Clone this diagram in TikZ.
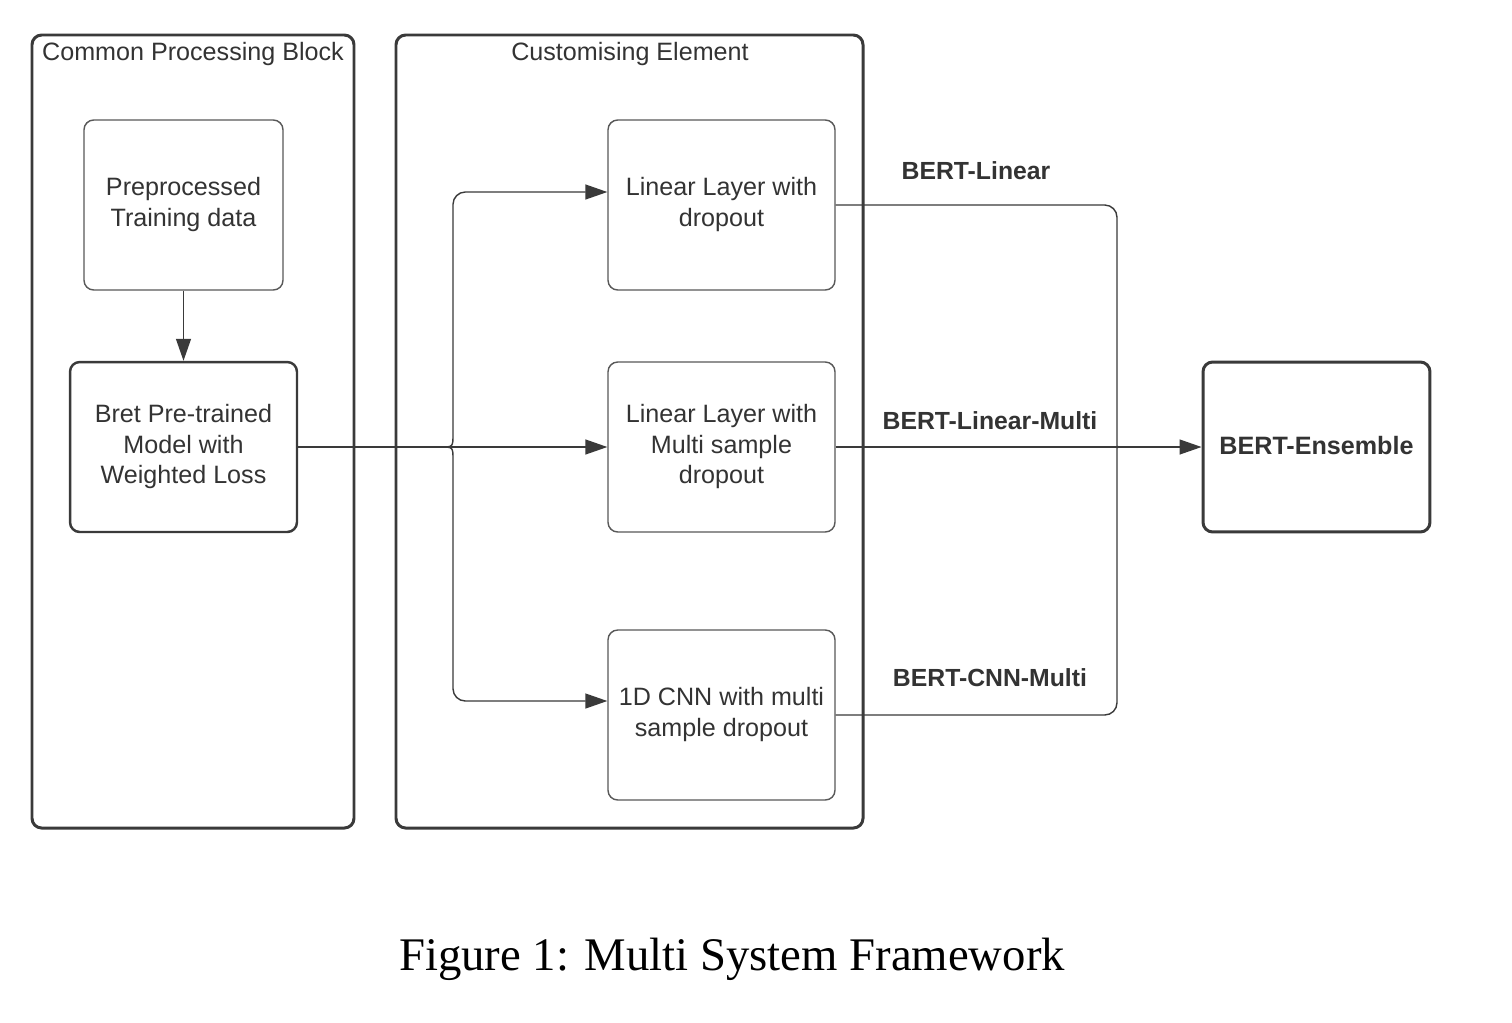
\documentclass[tikz,border=0pt]{standalone}
\usepackage{fontspec}
\setmainfont{Liberation Sans}
\newfontfamily\capfont{Liberation Serif}
\usetikzlibrary{arrows.meta}
\definecolor{ln}{HTML}{3A3A3A}
\definecolor{tx}{HTML}{333333}
\tikzset{
  outerbox/.style={draw=ln, line width=1.7pt, rounded corners=5.5pt},
  inbox/.style={draw=ln!85, line width=0.8pt, rounded corners=5.5pt, align=center, text=tx,
     minimum width=3.98cm, minimum height=3.4cm, inner sep=0pt,
     font=\fontsize{14.3}{17.3}\selectfont},
  thickbox/.style={inbox, line width=1.4pt, draw=ln, minimum width=4.54cm},
  ensbox/.style={inbox, line width=1.7pt, draw=ln, minimum width=4.54cm, font=\fontsize{14.3}{17.3}\selectfont\bfseries},
  midbox/.style={inbox, minimum width=4.54cm},
  title/.style={text=tx, font=\fontsize{14.3}{17.3}\selectfont, inner sep=0pt},
  lbl/.style={text=tx, font=\fontsize{14.1}{17}\selectfont\bfseries, inner sep=0pt},
  conn/.style={draw=ln, line width=0.8pt},
  arr/.style={conn, -{Triangle[length=12.5pt,width=8.5pt]}},
}
\begin{document}
\begin{tikzpicture}[x=0.02cm, y=-0.02cm]
\useasboundingbox[fill=white] (0,0) rectangle (1512,1022);

% outer blocks
\draw[outerbox] (32,35) rectangle (354,828);
\draw[outerbox] (396,35) rectangle (863,828);
\node[title] (t1) at (193,54) {Common Processing Block};
\node[title] (t2) at (630,54) {Customising Element};

% inner boxes
\node[inbox] (pre) at (183.5,205) {\raisebox{1.6pt}{\begin{tabular}{@{}c@{}}Preprocessed\\Training data\end{tabular}}};
\node[thickbox] (bret) at (183.5,447) {\raisebox{1.6pt}{\begin{tabular}{@{}c@{}}Bret Pre-trained\\Model with\\Weighted Loss\end{tabular}}};
\node[midbox] (lin) at (721.5,205) {\raisebox{1.6pt}{\begin{tabular}{@{}c@{}}Linear Layer with\\dropout\end{tabular}}};
\node[midbox] (multi) at (721.5,447) {\raisebox{1.6pt}{\begin{tabular}{@{}c@{}}Linear Layer with\\Multi sample\\dropout\end{tabular}}};
\node[midbox] (cnn) at (721.5,715) {\raisebox{1.6pt}{\begin{tabular}{@{}c@{}}1D CNN with multi\\sample dropout\end{tabular}}};
\node[ensbox] (ens) at (1316.5,447) {\raisebox{2pt}{BERT-Ensemble}};

% labels
\node[lbl] (l1) at (976,171) {BERT-Linear};
\node[lbl] (l2) at (990,421) {BERT-Linear-Multi};
\node[lbl] (l3) at (990,678) {BERT-CNN-Multi};

% caption
\node[inner sep=0pt, font=\capfont\fontsize{26.6}{30}\selectfont, text=black] (cap) at (732,959) {Figure 1: Multi System Framework};

% connectors
\draw[arr] (pre) -- (bret);

\coordinate (split) at (441,447);
\coordinate (su) at (453,434);
\coordinate (sd) at (453,460);
\coordinate (lin in) at ([yshift=0.26cm]lin.west);
\coordinate (cnn in) at ([yshift=0.28cm]cnn.west);
\draw[arr] (bret.east) -- (multi.west);
\draw[arr] (split) .. controls (453,447) .. (su) [rounded corners=7pt] |- (lin in);
\draw[arr] (split) .. controls (453,447) .. (sd) [rounded corners=7pt] |- (cnn in);

\coordinate (merge) at (1130,447);
\coordinate (mu) at (1117,434);
\coordinate (md) at (1117,460);
\draw[arr] (multi.east) -- (ens.west);
\draw[conn] (lin.east) [rounded corners=7pt] -| (mu) [sharp corners] .. controls (1117,447) .. (merge);
\draw[conn] (cnn.east) [rounded corners=7pt] -| (md) [sharp corners] .. controls (1117,447) .. (merge);
\end{tikzpicture}
\end{document}
